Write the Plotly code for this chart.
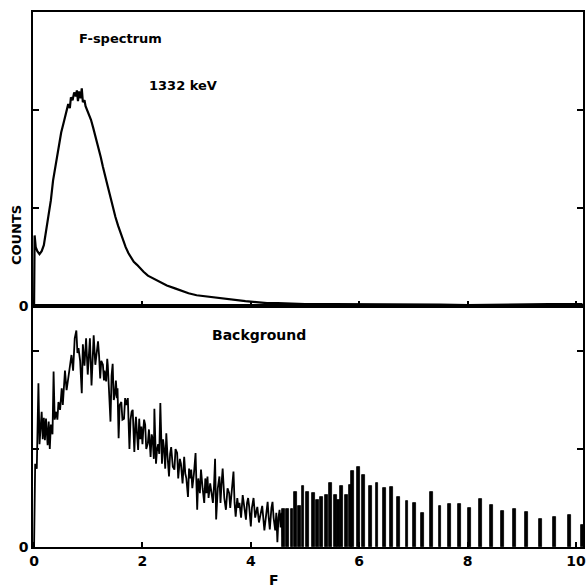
import plotly.graph_objects as go
from plotly.subplots import make_subplots

# ---- F-spectrum (1332 keV), top panel ----
spec_f = [0.00, 0.01, 0.03, 0.06, 0.10, 0.14, 0.18, 0.22, 0.26, 0.31, 0.35, 0.40, 0.45, 0.50,
          0.55, 0.59, 0.63, 0.66, 0.68, 0.71, 0.74, 0.77, 0.79, 0.81, 0.83, 0.86, 0.88, 0.90,
          0.93, 0.95, 0.98, 1.01, 1.05, 1.09, 1.14, 1.18, 1.23, 1.27, 1.32, 1.36, 1.41, 1.45,
          1.50, 1.55, 1.60, 1.64, 1.69, 1.74, 1.78, 1.84, 1.90, 1.96, 2.02, 2.10, 2.20, 2.30,
          2.45, 2.60, 2.70, 2.85, 3.00, 3.15, 3.30, 3.50, 3.70, 3.90, 4.10, 4.30, 4.50, 5.00,
          5.50, 6.00, 6.50, 7.00, 7.50, 8.00, 8.50, 9.00, 9.50, 10.00, 10.12]
spec_counts = [0.00, 0.72, 0.60, 0.56, 0.53, 0.56, 0.62, 0.75, 0.90, 1.08, 1.28, 1.46, 1.62, 1.77,
               1.88, 1.97, 2.06, 2.02, 2.13, 2.10, 2.18, 2.14, 2.20, 2.09, 2.19, 2.12, 2.22, 2.08,
               2.10, 2.04, 2.00, 1.96, 1.90, 1.82, 1.72, 1.63, 1.52, 1.42, 1.32, 1.22, 1.11, 1.01,
               0.91, 0.82, 0.74, 0.67, 0.60, 0.54, 0.50, 0.45, 0.42, 0.38, 0.35, 0.31, 0.28, 0.25,
               0.21, 0.18, 0.16, 0.13, 0.11, 0.10, 0.09, 0.07, 0.06, 0.05, 0.04, 0.03, 0.03, 0.02,
               0.02, 0.02, 0.02, 0.015, 0.015, 0.01, 0.015, 0.015, 0.02, 0.02, 0.02]

# ---- Background, bottom panel: continuum part ----
bg_f = [0.00, 0.02, 0.05, 0.08, 0.10, 0.12, 0.14, 0.16, 0.18, 0.20, 0.22, 0.25, 0.27, 0.29,
        0.31, 0.34, 0.36, 0.38, 0.41, 0.43, 0.45, 0.48, 0.51, 0.53, 0.55, 0.57, 0.60, 0.63,
        0.66, 0.69, 0.72, 0.75, 0.78, 0.80, 0.82, 0.85, 0.88, 0.90, 0.93, 0.96, 0.99, 1.03,
        1.06, 1.10, 1.13, 1.16, 1.18,
        1.20, 1.22, 1.24, 1.27, 1.29, 1.30, 1.33, 1.35, 1.36, 1.38, 1.41, 1.43, 1.45, 1.47,
        1.49, 1.51, 1.53, 1.54, 1.56, 1.58, 1.61, 1.63, 1.66, 1.68, 1.70, 1.73, 1.74, 1.76,
        1.78, 1.80, 1.82, 1.83, 1.85, 1.87, 1.88, 1.90, 1.92, 1.94, 1.96, 1.98, 2.00, 2.01,
        2.03, 2.05, 2.07, 2.10, 2.12, 2.15, 2.17, 2.19, 2.21, 2.22, 2.24, 2.25, 2.27, 2.29,
        2.31, 2.33, 2.35, 2.36, 2.38, 2.40, 2.42, 2.44, 2.46, 2.49, 2.51, 2.53, 2.56, 2.59,
        2.61, 2.64, 2.66, 2.69, 2.71, 2.74, 2.77, 2.79, 2.81, 2.84, 2.86, 2.88, 2.90, 2.92,
        2.95, 2.98, 3.01, 3.03, 3.06, 3.08, 3.11, 3.14, 3.16, 3.18, 3.20, 3.22, 3.25, 3.27,
        3.30, 3.32, 3.34, 3.36, 3.39, 3.42, 3.44, 3.46, 3.48, 3.51, 3.54, 3.57, 3.60, 3.62,
        3.65, 3.68, 3.70, 3.72, 3.75, 3.77, 3.79, 3.82, 3.85, 3.88, 3.91, 3.93, 3.95, 3.97,
        4.00, 4.02, 4.05, 4.08, 4.10, 4.12, 4.15, 4.18, 4.21, 4.25, 4.28, 4.31, 4.33, 4.35,
        4.38, 4.40, 4.42, 4.45, 4.47, 4.49, 4.51, 4.53, 4.55, 4.57, 4.59]
bg_counts = [0.00, 0.85, 0.80, 1.67, 1.05, 1.30, 1.38, 1.10, 1.32, 1.09, 1.31, 1.04, 1.28, 1.00,
             1.25, 1.15, 1.79, 1.30, 1.38, 1.30, 1.48, 1.40, 1.62, 1.45, 1.65, 1.80, 1.60, 1.72,
             1.85, 1.96, 1.80, 2.13, 2.21, 1.98, 2.03, 1.90, 1.57, 2.07, 1.85, 2.13, 1.76, 2.13,
             1.65, 2.16, 1.86, 2.05, 2.10,
             1.95, 1.72, 1.90, 1.86, 1.70, 1.80, 1.69, 1.92, 1.86, 1.60, 1.28, 1.75, 1.87, 1.50,
             1.55, 1.70, 1.52, 1.62, 1.11, 1.45, 1.48, 1.30, 1.31, 1.52, 1.45, 1.52, 1.25, 1.00,
             1.30, 1.38, 1.40, 1.20, 0.97, 1.25, 1.33, 1.15, 0.99, 1.31, 1.10, 1.23, 1.05, 1.15,
             1.30, 1.25, 1.00, 1.06, 1.20, 0.92, 1.15, 1.10, 0.90, 1.41, 1.10, 0.85, 1.00, 1.05,
             0.95, 1.47, 1.05, 0.85, 1.10, 1.00, 0.80, 1.16, 0.95, 0.72, 0.95, 1.02, 0.82, 0.79,
             1.00, 0.96, 0.70, 0.90, 0.85, 0.65, 0.92, 0.75, 0.70, 0.51, 0.80, 0.70, 0.79, 0.60,
             0.75, 0.96, 0.38, 0.70, 0.55, 0.79, 0.60, 0.45, 0.70, 0.55, 0.72, 0.50, 0.65, 0.58,
             0.45, 0.62, 0.90, 0.28, 0.60, 0.72, 0.45, 0.65, 0.80, 0.50, 0.38, 0.60, 0.55, 0.40,
             0.58, 0.77, 0.45, 0.31, 0.50, 0.40, 0.45, 0.30, 0.53, 0.40, 0.28, 0.45, 0.50, 0.41,
             0.21, 0.40, 0.50, 0.30, 0.38, 0.41, 0.25, 0.34, 0.42, 0.17, 0.35, 0.46, 0.30, 0.18,
             0.40, 0.46, 0.30, 0.17, 0.35, 0.05, 0.30, 0.38, 0.20, 0.35, 0.10]

# ---- Background, bottom panel: comb of peaks ----
comb_f = [4.60, 4.68, 4.76, 4.83, 4.90, 4.96, 5.05, 5.15, 5.23, 5.31, 5.39, 5.47, 5.56, 5.62,
          5.67, 5.76, 5.84, 5.88, 5.99, 6.08, 6.21, 6.33, 6.47, 6.59, 6.73, 6.88, 7.02, 7.17,
          7.33, 7.49, 7.67, 7.85, 8.04, 8.24, 8.44, 8.65, 8.87, 9.09, 9.35, 9.60, 9.88, 10.12]
comb_counts = [0.39, 0.39, 0.39, 0.56, 0.42, 0.62, 0.56, 0.55, 0.48, 0.51, 0.53, 0.65, 0.53, 0.48,
               0.62, 0.53, 0.63, 0.78, 0.82, 0.73, 0.62, 0.65, 0.60, 0.61, 0.51, 0.47, 0.45, 0.35,
               0.56, 0.42, 0.44, 0.44, 0.40, 0.49, 0.43, 0.37, 0.39, 0.36, 0.29, 0.31, 0.33, 0.22]

x_ticks = [0, 2, 4, 6, 8, 10]
x_ticklabels = ["0", "2", "4", "6", "8", "10"]

FONT = "DejaVu Sans"
tickfont = dict(family=FONT, size=14, color="black", weight="bold")

fig = make_subplots(rows=2, cols=1, shared_xaxes=False, vertical_spacing=0,
                    row_heights=[294, 241])

fig.add_trace(go.Scatter(x=spec_f, y=spec_counts, mode="lines",
                         line=dict(color="black", width=2.2), showlegend=False), row=1, col=1)
fig.add_trace(go.Scatter(x=bg_f, y=bg_counts, mode="lines",
                         line=dict(color="black", width=1.8), showlegend=False), row=2, col=1)
fig.add_trace(go.Bar(x=comb_f, y=comb_counts, width=0.05,
                     marker=dict(color="black", line=dict(color="black", width=0.8)),
                     showlegend=False), row=2, col=1)

xr = [-0.02, 10.13]
fig.update_xaxes(range=xr, showgrid=False, zeroline=False, showline=True, linecolor="black",
                 linewidth=1.5, mirror=True)
fig.update_xaxes(row=1, col=1, tickmode="array", tickvals=[2, 4, 6, 8, 10], ticks="inside",
                 ticklen=5, tickwidth=1.5, tickcolor="black", showticklabels=False)
fig.update_xaxes(row=2, col=1, tickmode="array", tickvals=x_ticks, ticktext=x_ticklabels,
                 ticks="inside", ticklen=5, tickwidth=1.5, tickcolor="black", tickfont=tickfont)

fig.update_yaxes(showgrid=False, zeroline=False, showline=True, linecolor="black",
                 linewidth=1.5, mirror="ticks", ticks="inside", ticklen=6, tickwidth=1.5,
                 tickcolor="black", tickmode="array", tickvals=[0, 1, 2],
                 ticktext=["0", "", ""], tickfont=tickfont)
fig.update_yaxes(row=1, col=1, range=[0, 3.0])
fig.update_yaxes(row=2, col=1, range=[0, 2.46])

ann_font = dict(family=FONT, size=13, color="black", weight="bold")
fig.add_annotation(text="F-spectrum", xref="paper", yref="paper", x=0.08, y=0.951,
                   xanchor="left", yanchor="middle", showarrow=False, font=ann_font)
fig.add_annotation(text="1332 keV", xref="paper", yref="paper", x=0.208, y=0.862,
                   xanchor="left", yanchor="middle", showarrow=False, font=ann_font)
fig.add_annotation(text="Background", xref="paper", yref="paper", x=0.322, y=0.396,
                   xanchor="left", yanchor="middle", showarrow=False,
                   font=dict(family=FONT, size=14, color="black", weight="bold"))
fig.add_annotation(text="COUNTS", xref="paper", yref="paper", x=-0.031, y=0.583,
                   xanchor="center", yanchor="middle", textangle=-90, showarrow=False,
                   font=ann_font)
fig.add_annotation(text="F", xref="paper", yref="paper", x=0.438, y=-0.062,
                   xanchor="center", yanchor="middle", showarrow=False,
                   font=dict(family=FONT, size=14, color="black", weight="bold"))

fig.update_layout(width=587, height=588, margin=dict(l=33, r=2, t=12, b=41),
                  plot_bgcolor="white", paper_bgcolor="white", bargap=0)

fig.write_html("out.html")
